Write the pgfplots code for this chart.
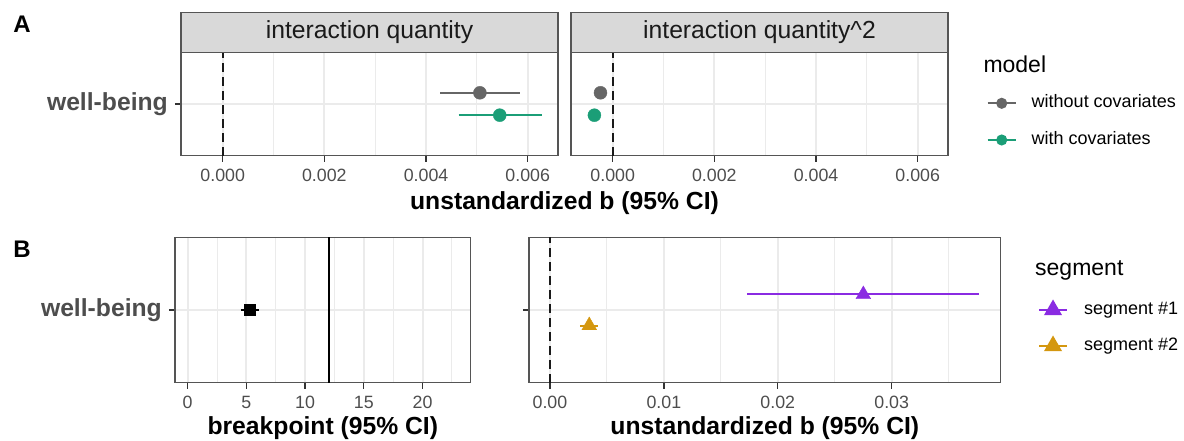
\documentclass[border=0pt]{standalone}
\usepackage{fontspec}
\setmainfont{Liberation Sans}
\usepackage{pgfplots}
\pgfplotsset{compat=1.18}
\definecolor{grey20}{HTML}{333333}
\definecolor{border}{HTML}{555555}
\definecolor{grey30}{HTML}{4D4D4D}
\definecolor{grey10}{HTML}{1A1A1A}
\definecolor{grey85}{HTML}{D9D9D9}
\definecolor{grey92}{HTML}{EBEBEB}
\definecolor{cgray}{HTML}{666666}
\definecolor{cgreen}{HTML}{1B9E77}
\definecolor{cpurple}{HTML}{8A2BE2}
\definecolor{corange}{HTML}{D4970F}
\newcommand\fsTick{\fontsize{17.8}{20}\selectfont}
\newcommand\fsTitle{\fontsize{24.7}{29}\selectfont}
\newcommand\fsLeg{\fontsize{18}{21}\selectfont}
\newcommand\fsLegT{\fontsize{23}{27}\selectfont}
\pgfplotsset{
  ggpanel/.style={
    scale only axis, anchor=south west,
    ymin=0.4, ymax=1.6,
    axis line style={draw=border, line width=1.3pt},
    tick align=outside, major tick length=6pt, minor tick length=0pt,
    tick style={grey20, line width=1.3pt},
    xtick pos=left, ytick pos=left,
    grid=both,
    major grid style={grey92, line width=2pt},
    minor grid style={grey92, line width=1pt},
    /pgf/number format/assume math mode=true,
    tick label style={font=\fsTick, text=grey30, inner sep=0pt},
    xticklabel style={yshift=-7pt},
    scaled x ticks=false,
    ytick={1},
    yticklabel style={font=\fsTitle\bfseries, text=grey30, xshift=-7pt},
  },
  ci/.style={line width=2pt, mark=none},
  pt/.style={only marks, mark options={draw=none}},
  zero/.style={grey10, line width=1.8pt, dash pattern=on 9pt off 5pt},
  legimg/.style={legend image code/.code={\draw[mark repeat=2,mark phase=2,##1] plot coordinates {(0pt,0pt) (14pt,0pt) (28pt,0pt)};}},
}
\begin{document}
\begin{tikzpicture}
\useasboundingbox (0pt,0pt) rectangle (1184pt,441pt);
% ---------- Panel A left
\begin{axis}[ggpanel, at={(181pt,285.3pt)}, width=377pt, height=103.4pt,
  xmin=-0.00082, xmax=0.006596,
  xtick={0,0.002,0.004,0.006}, minor xtick={0.001,0.003,0.005},
  xticklabel style={/pgf/number format/.cd, fixed, fixed zerofill, precision=3},
  yticklabels={well-being}]
\addplot[zero] coordinates {(0,0.4) (0,1.6)};
\addplot[ci, cgray] coordinates {(0.00428,1.13) (0.00585,1.13)};
\addplot[pt, mark=*, mark size=6.5pt, cgray] coordinates {(0.00506,1.13)};
\addplot[ci, cgreen] coordinates {(0.00464,0.87) (0.00628,0.87)};
\addplot[pt, mark=*, mark size=6.5pt, cgreen] coordinates {(0.00545,0.87)};
\end{axis}
% ---------- Panel A right
\begin{axis}[ggpanel, at={(571pt,285.3pt)}, width=377pt, height=103.4pt,
  xmin=-0.00082, xmax=0.006596,
  xtick={0,0.002,0.004,0.006}, minor xtick={0.001,0.003,0.005},
  xticklabel style={/pgf/number format/.cd, fixed, fixed zerofill, precision=3},
  yticklabels={}, ytick style={draw=none},
  legend style={at={(1.1027,0.589)}, anchor=north west, draw=none, fill=none,
    inner sep=0pt, outer sep=0pt, row sep=19.7pt, column sep=15pt, font=\fsLeg,
    nodes={inner sep=0pt, text height=13pt, text depth=4pt}},
  legend cell align=left]
\addplot[zero, forget plot] coordinates {(0,0.4) (0,1.6)};
\addplot[ci, cgray, forget plot] coordinates {(-0.00031,1.13) (-0.00017,1.13)};
\addplot[pt, mark=*, mark size=6.5pt, cgray, forget plot] coordinates {(-0.00024,1.13)};
\addplot[ci, cgreen, forget plot] coordinates {(-0.00045,0.87) (-0.00027,0.87)};
\addplot[pt, mark=*, mark size=6.5pt, cgreen, forget plot] coordinates {(-0.00036,0.87)};
\addlegendimage{legimg, cgray, line width=2pt, mark=*, mark size=4.5pt, mark options={draw=none}}
\addlegendentry{without covariates}
\addlegendimage{legimg, cgreen, line width=2pt, mark=*, mark size=4.5pt, mark options={draw=none}}
\addlegendentry{with covariates}
\end{axis}
% ---------- Panel B left
\begin{axis}[ggpanel, at={(175pt,58.3pt)}, width=295.7pt, height=145.4pt,
  xmin=-1.08, xmax=24.1,
  xtick={0,5,10,15,20}, minor xtick={2.5,7.5,12.5,17.5,22.5},
  yticklabels={well-being}]
\addplot[black, line width=2pt] coordinates {(12,0.4) (12,1.6)};
\addplot[ci, black] coordinates {(4.52,1) (6.11,1)};
\addplot[pt, mark=square*, mark size=5.5pt, black] coordinates {(5.32,1)};
\end{axis}
% ---------- Panel B right
\begin{axis}[ggpanel, at={(529pt,58.3pt)}, width=471.7pt, height=145.4pt,
  xmin=-0.00184, xmax=0.03957,
  xtick={0,0.01,0.02,0.03}, minor xtick={0.005,0.015,0.025,0.035},
  xticklabel style={/pgf/number format/.cd, fixed, fixed zerofill, precision=2},
  yticklabels={},
  legend style={at={(1.0791,0.5585)}, anchor=north west, draw=none, fill=none,
    inner sep=0pt, outer sep=0pt, row sep=19pt, column sep=16pt, font=\fsLeg,
    nodes={inner sep=0pt, text height=13pt, text depth=4pt}},
  legend cell align=left]
\addplot[zero, forget plot] coordinates {(0,0.4) (0,1.6)};
\addplot[ci, cpurple, forget plot] coordinates {(0.01732,1.128) (0.03767,1.128)};
\addplot[pt, mark=triangle*, mark size=8.5pt, cpurple, forget plot] coordinates {(0.02751,1.128)};
\addplot[ci, corange, forget plot] coordinates {(0.00265,0.872) (0.00425,0.872)};
\addplot[pt, mark=triangle*, mark size=8.5pt, corange, forget plot] coordinates {(0.00345,0.872)};
\addlegendimage{legimg, cpurple, line width=2pt, mark=triangle*, mark size=8.5pt, mark options={draw=none}}
\addlegendentry{segment \#1}
\addlegendimage{legimg, corange, line width=2pt, mark=triangle*, mark size=8.5pt, mark options={draw=none}}
\addlegendentry{segment \#2}
\end{axis}
% ---------- strips
\draw[fill=grey85, draw=border, line width=1.3pt] (181pt,388.7pt) rectangle (558pt,428.7pt);
\node[font=\fsTitle, text=grey10] at (369.5pt,408.7pt) {interaction quantity};
\draw[fill=grey85, draw=border, line width=1.3pt] (571pt,388.7pt) rectangle (948pt,428.7pt);
\node[font=\fsTitle, text=grey10] at (759.5pt,408.7pt) {interaction quantity\textasciicircum{}2};
% ---------- titles
\node[font=\fsTitle\bfseries, inner sep=0pt] at (564.5pt,238pt) {unstandardized b (95\% CI)};
\node[font=\fsTitle\bfseries, inner sep=0pt] at (322.8pt,13pt) {breakpoint (95\% CI)};
\node[font=\fsTitle\bfseries, inner sep=0pt] at (764.8pt,13pt) {unstandardized b (95\% CI)};
\node[font=\fontsize{24}{28}\selectfont\bfseries, inner sep=0pt] at (22pt,417pt) {A};
\node[font=\fontsize{24}{28}\selectfont\bfseries, inner sep=0pt] at (22pt,192pt) {B};
\node[font=\fsLegT, inner sep=0pt, anchor=base west] at (983.3pt,368pt) {model};
\node[font=\fsLegT, inner sep=0pt, anchor=base west] at (1035pt,165pt) {segment};
\end{tikzpicture}
\end{document}
